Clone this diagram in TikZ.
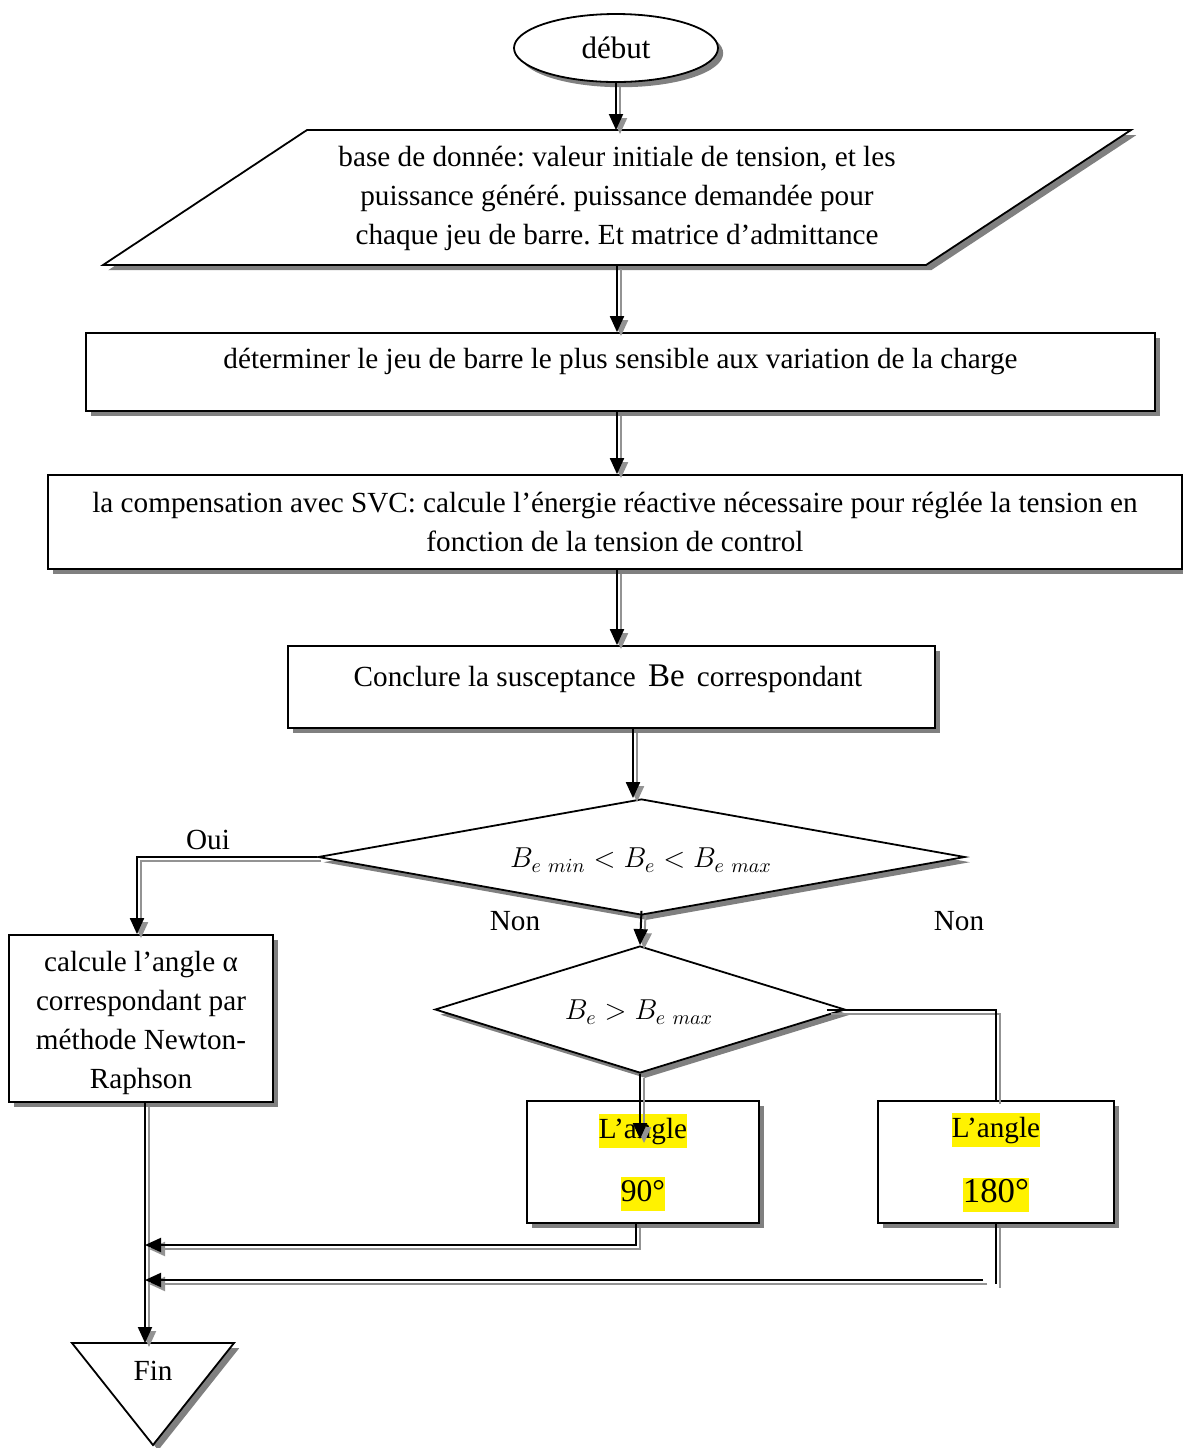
\documentclass[tikz,border=0pt]{standalone}
\usepackage{fontspec}
\setmainfont{Liberation Serif}
\usetikzlibrary{shapes.geometric,shadows,arrows.meta,calc}
% yellow highlight behind a short text
\newcommand{\yelhl}[1]{{\setlength{\fboxsep}{0pt}\colorbox{yellow}{\rule[-4.6pt]{0pt}{17pt}#1}}}
\frenchspacing
\begin{document}
\begin{tikzpicture}[x=0.5pt,y=-0.5pt,
  font=\fontsize{14.6}{19.5}\selectfont,
  shadowed/.style={drop shadow={shadow xshift=2.6pt,shadow yshift=-2.6pt,fill=gray,opacity=1}},
  box/.style={draw,line width=0.9pt,fill=white,shadowed,inner sep=0pt,align=center},
  line/.style={line width=1pt,preaction={draw=gray!85,line width=1pt,transform canvas={shift={(2pt,-2pt)}}}},
  link/.style={line,-{Triangle[length=8pt,width=7pt]}},
  lbl/.style={inner sep=0pt,align=center}]
\useasboundingbox (0,0) rectangle (1183,1448);

% start
\node[ellipse,box,minimum width=102pt,minimum height=34pt] (start) at (616,48) {{\fontsize{15.5}{15.5}\selectfont début}};

% input data (parallelogram)
\filldraw[fill=white,line width=0.9pt,shadowed] (307,130) -- (1131,130) -- (926,265) -- (103,265) -- cycle;
\coordinate (ptop) at (617,130);
\coordinate (pbot) at (617,265);
\node[lbl] (data) at (617,198) {base de donnée: valeur initiale de tension, et les\\ puissance généré. puissance demandée pour\\ chaque jeu de barre. Et matrice d’admittance};

% processing steps
\node[box,minimum width=534.5pt,minimum height=39pt] (r2) at (620.5,372) {};
\node[lbl] (r2t) at (620.5,361) {déterminer le jeu de barre le plus sensible aux variation de la charge};

\node[box,minimum width=567pt,minimum height=47pt] (r3) at (615,522) {la compensation avec SVC: calcule l’énergie réactive nécessaire pour réglée la tension en\\ fonction de la tension de control};

\node[box,minimum width=323.5pt,minimum height=41pt] (r4) at (611.5,687) {};
\node[lbl] (r4t) at (608,679) {Conclure la susceptance \,{\fontsize{16.5}{16.5}\selectfont Be}\, correspondant};

% decisions
\node[diamond,box,minimum width=323.5pt,minimum height=58pt] (d1) at (641.5,857) {};
\node[lbl] (d1t) at (641,860) {$B_{e\ min} < B_e < B_{e\ max}$};

\node[diamond,box,minimum width=205pt,minimum height=63.5pt] (d2) at (640,1009.5) {};
\node[lbl] (d2t) at (639,1012) {$B_e > B_{e\ max}$};

\node[lbl] (oui) at (208,840) {Oui};
\node[lbl] (non1) at (515,921) {Non};
\node[lbl] (non2) at (959,921) {Non};

% results
\node[box,minimum width=132pt,minimum height=83.5pt] (bl) at (141,1018.5) {};
\node[lbl] (blt) at (141,1023) {calcule l’angle α\\ correspondant par\\ méthode Newton-\\ Raphson};

\node[box,minimum width=116pt,minimum height=61pt] (b90) at (643,1162) {\yelhl{L’angle}\\[12pt]\yelhl{{\fontsize{15.8}{15.8}\selectfont 90°}}};
\node[box,minimum width=118pt,minimum height=61pt] (b180) at (996,1162) {\yelhl{L’angle}\\[13pt]\yelhl{{\fontsize{17.4}{17.4}\selectfont 180°}}};

% end
\filldraw[fill=white,line width=0.9pt,shadowed] (72,1343) -- (234,1343) -- (153,1445) -- cycle;
\node[lbl] (fin) at (153,1371) {Fin};
\coordinate (fintop) at (145,1343);

% connectors
\draw[link] (start.south) -- (start.south |- ptop);
\draw[link] (pbot) -- (pbot |- r2.north);
\draw[link] (r2.south -| pbot) -- (r3.north -| pbot);
\draw[link] (r3.south -| pbot) -- (r4.north -| pbot);
\draw[link] ([xshift=10.75pt]r4.south) -- ([xshift=10.75pt]r4.south |- d1.north);
\draw[link] (d1.west) -| ([xshift=-2pt]bl.north);
\draw[link] ([yshift=2.5pt]d1.south) -- (d2.north);
\draw[line] ([xshift=-9.5pt]d2.east) -- (d2.east -| b180.north) -- (b180.north);
\draw[link] (d2.south) -- ([yshift=-19.5pt]b90.north -| d2.south);
\draw[link] ([xshift=2pt]bl.south) -- (fintop);
\coordinate (j1) at (145,1245);
\draw[link] ([xshift=-3.5pt]b90.south) |- (j1);
\draw[line] (b180.south) -- ++(0,60);
\coordinate (j2s) at (983,1280);
\coordinate (j2) at (145,1280);
\draw[link] (j2s) -- (j2);
\end{tikzpicture}
\end{document}
